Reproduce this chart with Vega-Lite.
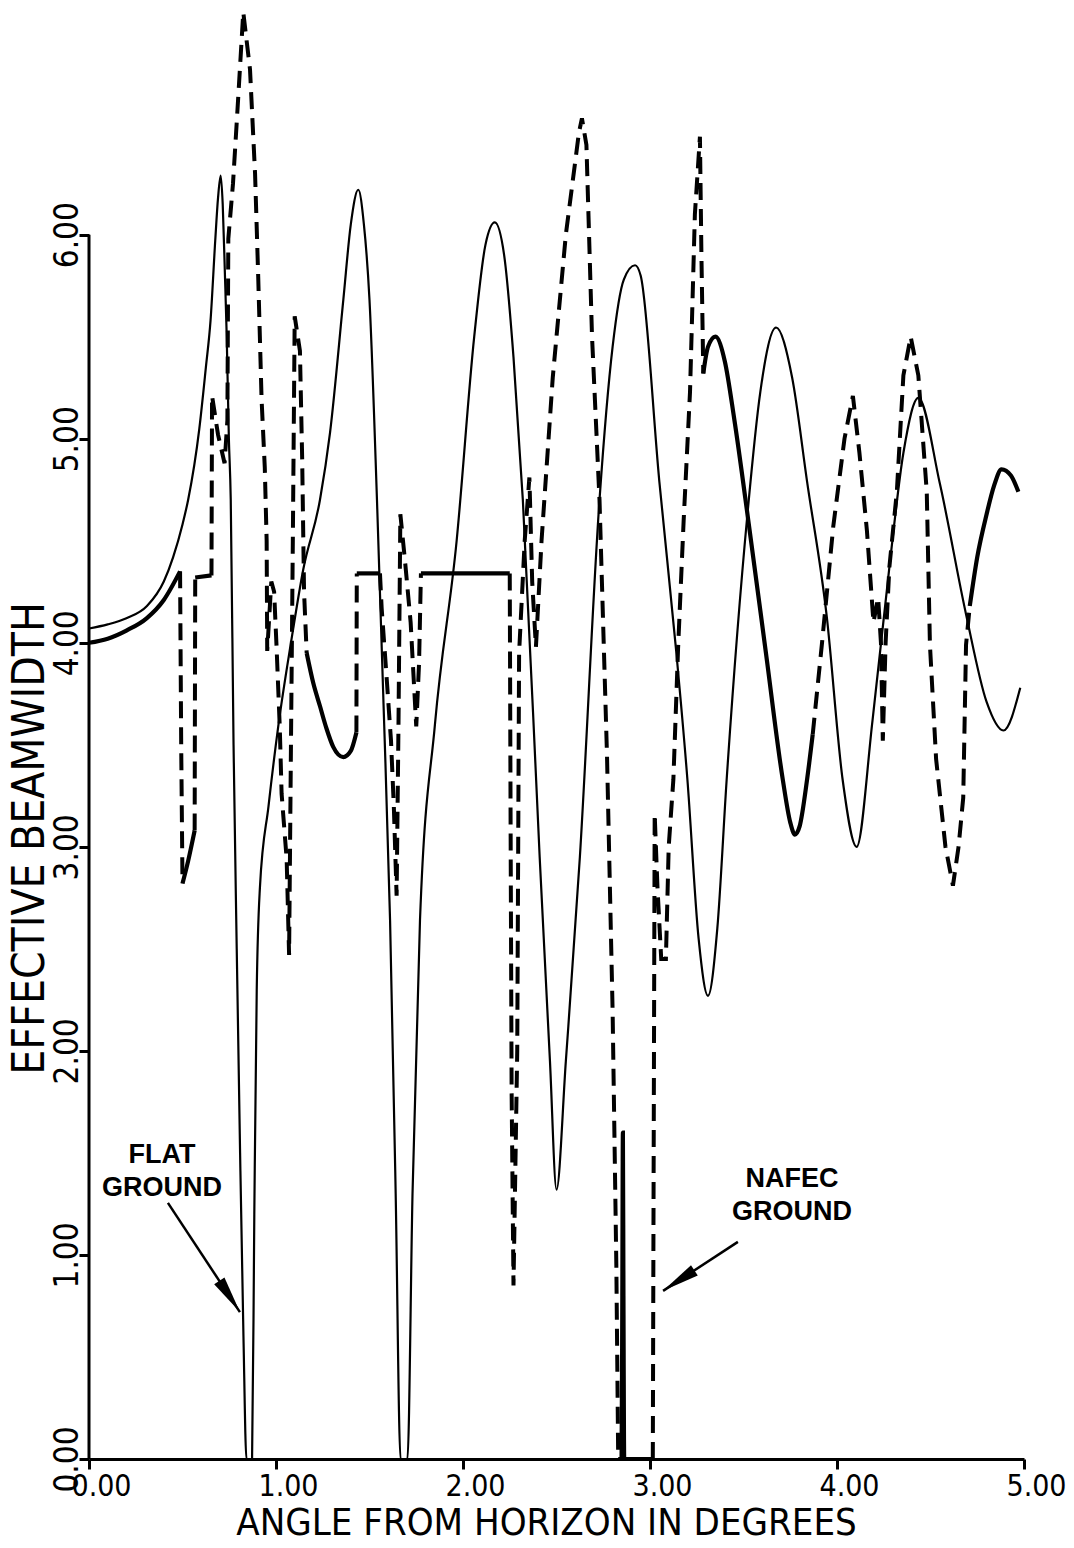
{
  "$schema": "https://vega.github.io/schema/vega-lite/v6.json",
  "width": 935,
  "height": 1459,
  "autosize": {"type": "none"},
  "padding": {"left": 89, "top": 0, "right": 50, "bottom": 89},
  "background": "white",
  "config": {"view": {"stroke": null}},
  "datasets": {
    "flat": [
      {"angle": 0.0, "bw": 4.07}, {"angle": 0.1, "bw": 4.09}, {"angle": 0.2, "bw": 4.12}, {"angle": 0.31, "bw": 4.18},
      {"angle": 0.4, "bw": 4.3}, {"angle": 0.45, "bw": 4.42}, {"angle": 0.5, "bw": 4.58}, {"angle": 0.53, "bw": 4.7},
      {"angle": 0.59, "bw": 5.05}, {"angle": 0.625, "bw": 5.35}, {"angle": 0.65, "bw": 5.58}, {"angle": 0.675, "bw": 5.97},
      {"angle": 0.69, "bw": 6.18}, {"angle": 0.704, "bw": 6.29}, {"angle": 0.715, "bw": 6.15}, {"angle": 0.727, "bw": 5.8},
      {"angle": 0.736, "bw": 5.52}, {"angle": 0.748, "bw": 5.0}, {"angle": 0.758, "bw": 4.7}, {"angle": 0.773, "bw": 3.5},
      {"angle": 0.79, "bw": 2.5}, {"angle": 0.808, "bw": 1.5}, {"angle": 0.826, "bw": 0.6}, {"angle": 0.842, "bw": 0.0},
      {"angle": 0.872, "bw": 0.0}, {"angle": 0.884, "bw": 1.2}, {"angle": 0.897, "bw": 2.3}, {"angle": 0.914, "bw": 2.8},
      {"angle": 0.96, "bw": 3.2}, {"angle": 1.012, "bw": 3.59}, {"angle": 1.08, "bw": 4.0}, {"angle": 1.146, "bw": 4.36},
      {"angle": 1.235, "bw": 4.7}, {"angle": 1.289, "bw": 5.03}, {"angle": 1.36, "bw": 5.68}, {"angle": 1.4, "bw": 6.05},
      {"angle": 1.44, "bw": 6.22}, {"angle": 1.47, "bw": 6.05}, {"angle": 1.5, "bw": 5.68}, {"angle": 1.54, "bw": 4.7},
      {"angle": 1.575, "bw": 3.7}, {"angle": 1.61, "bw": 2.64}, {"angle": 1.64, "bw": 1.3}, {"angle": 1.666, "bw": 0.0},
      {"angle": 1.703, "bw": 0.0}, {"angle": 1.73, "bw": 1.3}, {"angle": 1.77, "bw": 2.64}, {"angle": 1.85, "bw": 3.6},
      {"angle": 1.966, "bw": 4.5}, {"angle": 2.06, "bw": 5.5}, {"angle": 2.12, "bw": 5.95}, {"angle": 2.17, "bw": 6.06},
      {"angle": 2.22, "bw": 5.9}, {"angle": 2.27, "bw": 5.4}, {"angle": 2.32, "bw": 4.7}, {"angle": 2.41, "bw": 2.95},
      {"angle": 2.465, "bw": 1.95}, {"angle": 2.5, "bw": 1.32}, {"angle": 2.55, "bw": 1.95}, {"angle": 2.625, "bw": 2.95},
      {"angle": 2.73, "bw": 4.7}, {"angle": 2.8, "bw": 5.45}, {"angle": 2.86, "bw": 5.78}, {"angle": 2.92, "bw": 5.85},
      {"angle": 2.95, "bw": 5.8}, {"angle": 3.05, "bw": 4.79}, {"angle": 3.14, "bw": 3.96}, {"angle": 3.2, "bw": 3.33},
      {"angle": 3.26, "bw": 2.55}, {"angle": 3.31, "bw": 2.27}, {"angle": 3.36, "bw": 2.6}, {"angle": 3.41, "bw": 3.33},
      {"angle": 3.52, "bw": 4.62}, {"angle": 3.59, "bw": 5.23}, {"angle": 3.674, "bw": 5.545}, {"angle": 3.76, "bw": 5.3},
      {"angle": 3.84, "bw": 4.79}, {"angle": 3.945, "bw": 4.13}, {"angle": 4.03, "bw": 3.33}, {"angle": 4.105, "bw": 3.0},
      {"angle": 4.19, "bw": 3.62}, {"angle": 4.28, "bw": 4.37}, {"angle": 4.355, "bw": 4.93}, {"angle": 4.435, "bw": 5.2},
      {"angle": 4.55, "bw": 4.78}, {"angle": 4.69, "bw": 4.14}, {"angle": 4.8, "bw": 3.71}, {"angle": 4.89, "bw": 3.57},
      {"angle": 4.98, "bw": 3.78}
    ],
    "nafec": [
      {"seg": 1, "kind": "curve", "angle": 0.0, "bw": 4.0}, {"seg": 1, "kind": "curve", "angle": 0.1, "bw": 4.02},
      {"seg": 1, "kind": "curve", "angle": 0.2, "bw": 4.06}, {"seg": 1, "kind": "curve", "angle": 0.308, "bw": 4.12},
      {"seg": 1, "kind": "curve", "angle": 0.4, "bw": 4.21}, {"seg": 1, "kind": "curve", "angle": 0.487, "bw": 4.35},
      {"seg": 2, "kind": "jump", "angle": 0.487, "bw": 4.35}, {"seg": 2, "kind": "jump", "angle": 0.493, "bw": 3.5},
      {"seg": 2, "kind": "jump", "angle": 0.5, "bw": 2.82},
      {"seg": 3, "kind": "curve", "angle": 0.5, "bw": 2.82}, {"seg": 3, "kind": "curve", "angle": 0.53, "bw": 2.93},
      {"seg": 3, "kind": "curve", "angle": 0.565, "bw": 3.08},
      {"seg": 4, "kind": "jump", "angle": 0.565, "bw": 3.08}, {"seg": 4, "kind": "jump", "angle": 0.568, "bw": 4.32},
      {"seg": 5, "kind": "curve", "angle": 0.568, "bw": 4.32}, {"seg": 5, "kind": "curve", "angle": 0.655, "bw": 4.33},
      {"seg": 6, "kind": "jump", "angle": 0.655, "bw": 4.33}, {"seg": 6, "kind": "jump", "angle": 0.658, "bw": 5.21},
      {"seg": 6, "kind": "jump", "angle": 0.69, "bw": 5.02}, {"seg": 6, "kind": "jump", "angle": 0.725, "bw": 4.88},
      {"seg": 6, "kind": "jump", "angle": 0.74, "bw": 5.09}, {"seg": 6, "kind": "jump", "angle": 0.745, "bw": 5.98},
      {"seg": 6, "kind": "jump", "angle": 0.77, "bw": 6.25}, {"seg": 6, "kind": "jump", "angle": 0.79, "bw": 6.55},
      {"seg": 6, "kind": "jump", "angle": 0.825, "bw": 7.09}, {"seg": 6, "kind": "jump", "angle": 0.861, "bw": 6.81},
      {"seg": 6, "kind": "jump", "angle": 0.888, "bw": 6.3}, {"seg": 6, "kind": "jump", "angle": 0.905, "bw": 5.79},
      {"seg": 6, "kind": "jump", "angle": 0.923, "bw": 5.19}, {"seg": 6, "kind": "jump", "angle": 0.94, "bw": 4.86},
      {"seg": 6, "kind": "jump", "angle": 0.95, "bw": 4.5}, {"seg": 6, "kind": "jump", "angle": 0.953, "bw": 3.96},
      {"seg": 6, "kind": "jump", "angle": 0.975, "bw": 4.3}, {"seg": 6, "kind": "jump", "angle": 0.99, "bw": 4.25},
      {"seg": 6, "kind": "jump", "angle": 1.003, "bw": 3.98}, {"seg": 6, "kind": "jump", "angle": 1.02, "bw": 3.59},
      {"seg": 6, "kind": "jump", "angle": 1.03, "bw": 3.26}, {"seg": 6, "kind": "jump", "angle": 1.057, "bw": 2.94},
      {"seg": 6, "kind": "jump", "angle": 1.07, "bw": 2.47}, {"seg": 6, "kind": "jump", "angle": 1.08, "bw": 3.5},
      {"seg": 6, "kind": "jump", "angle": 1.09, "bw": 4.5}, {"seg": 6, "kind": "jump", "angle": 1.1, "bw": 5.6},
      {"seg": 6, "kind": "jump", "angle": 1.128, "bw": 5.43}, {"seg": 6, "kind": "jump", "angle": 1.14, "bw": 4.9},
      {"seg": 6, "kind": "jump", "angle": 1.15, "bw": 4.25}, {"seg": 6, "kind": "jump", "angle": 1.164, "bw": 3.95},
      {"seg": 7, "kind": "curve", "angle": 1.164, "bw": 3.95}, {"seg": 7, "kind": "curve", "angle": 1.2, "bw": 3.8},
      {"seg": 7, "kind": "curve", "angle": 1.235, "bw": 3.69}, {"seg": 7, "kind": "curve", "angle": 1.27, "bw": 3.58},
      {"seg": 7, "kind": "curve", "angle": 1.306, "bw": 3.49}, {"seg": 7, "kind": "curve", "angle": 1.36, "bw": 3.44},
      {"seg": 7, "kind": "curve", "angle": 1.4, "bw": 3.47}, {"seg": 7, "kind": "curve", "angle": 1.43, "bw": 3.56},
      {"seg": 8, "kind": "jump", "angle": 1.43, "bw": 3.56}, {"seg": 8, "kind": "jump", "angle": 1.432, "bw": 4.34},
      {"seg": 9, "kind": "curve", "angle": 1.432, "bw": 4.34}, {"seg": 9, "kind": "curve", "angle": 1.556, "bw": 4.34},
      {"seg": 10, "kind": "jump", "angle": 1.556, "bw": 4.34}, {"seg": 10, "kind": "jump", "angle": 1.565, "bw": 4.17},
      {"seg": 10, "kind": "jump", "angle": 1.59, "bw": 3.85}, {"seg": 10, "kind": "jump", "angle": 1.615, "bw": 3.52},
      {"seg": 10, "kind": "jump", "angle": 1.63, "bw": 3.2}, {"seg": 10, "kind": "jump", "angle": 1.645, "bw": 2.76},
      {"seg": 10, "kind": "jump", "angle": 1.655, "bw": 3.6}, {"seg": 10, "kind": "jump", "angle": 1.665, "bw": 4.63},
      {"seg": 10, "kind": "jump", "angle": 1.69, "bw": 4.4}, {"seg": 10, "kind": "jump", "angle": 1.72, "bw": 4.1},
      {"seg": 10, "kind": "jump", "angle": 1.75, "bw": 3.59}, {"seg": 10, "kind": "jump", "angle": 1.765, "bw": 3.9},
      {"seg": 10, "kind": "jump", "angle": 1.775, "bw": 4.34},
      {"seg": 11, "kind": "curve", "angle": 1.775, "bw": 4.34}, {"seg": 11, "kind": "curve", "angle": 2.25, "bw": 4.34},
      {"seg": 12, "kind": "jump", "angle": 2.25, "bw": 4.34}, {"seg": 12, "kind": "jump", "angle": 2.255, "bw": 3.0},
      {"seg": 12, "kind": "jump", "angle": 2.26, "bw": 1.8}, {"seg": 12, "kind": "jump", "angle": 2.27, "bw": 0.85},
      {"seg": 12, "kind": "jump", "angle": 2.29, "bw": 2.0}, {"seg": 12, "kind": "jump", "angle": 2.3, "bw": 3.95},
      {"seg": 12, "kind": "jump", "angle": 2.33, "bw": 4.5}, {"seg": 12, "kind": "jump", "angle": 2.355, "bw": 4.81},
      {"seg": 12, "kind": "jump", "angle": 2.37, "bw": 4.3}, {"seg": 12, "kind": "jump", "angle": 2.39, "bw": 3.98},
      {"seg": 12, "kind": "jump", "angle": 2.42, "bw": 4.5}, {"seg": 12, "kind": "jump", "angle": 2.48, "bw": 5.3},
      {"seg": 12, "kind": "jump", "angle": 2.55, "bw": 6.0}, {"seg": 12, "kind": "jump", "angle": 2.62, "bw": 6.5},
      {"seg": 12, "kind": "jump", "angle": 2.636, "bw": 6.57}, {"seg": 12, "kind": "jump", "angle": 2.66, "bw": 6.44},
      {"seg": 12, "kind": "jump", "angle": 2.69, "bw": 5.5}, {"seg": 12, "kind": "jump", "angle": 2.73, "bw": 4.7},
      {"seg": 12, "kind": "jump", "angle": 2.77, "bw": 3.45}, {"seg": 12, "kind": "jump", "angle": 2.8, "bw": 2.2},
      {"seg": 12, "kind": "jump", "angle": 2.82, "bw": 0.95}, {"seg": 12, "kind": "jump", "angle": 2.83, "bw": 0.0},
      {"seg": 13, "kind": "curve", "angle": 2.83, "bw": 0.0}, {"seg": 13, "kind": "curve", "angle": 2.848, "bw": 0.0},
      {"seg": 13, "kind": "curve", "angle": 2.852, "bw": 0.8}, {"seg": 13, "kind": "curve", "angle": 2.855, "bw": 1.6},
      {"seg": 13, "kind": "curve", "angle": 2.858, "bw": 0.8}, {"seg": 13, "kind": "curve", "angle": 2.862, "bw": 0.0},
      {"seg": 13, "kind": "curve", "angle": 3.015, "bw": 0.0},
      {"seg": 14, "kind": "jump", "angle": 3.015, "bw": 0.0}, {"seg": 14, "kind": "jump", "angle": 3.02, "bw": 1.6},
      {"seg": 14, "kind": "jump", "angle": 3.025, "bw": 3.16}, {"seg": 14, "kind": "jump", "angle": 3.04, "bw": 2.8},
      {"seg": 14, "kind": "jump", "angle": 3.06, "bw": 2.45}, {"seg": 14, "kind": "jump", "angle": 3.085, "bw": 2.45},
      {"seg": 14, "kind": "jump", "angle": 3.1, "bw": 3.0}, {"seg": 14, "kind": "jump", "angle": 3.125, "bw": 3.33},
      {"seg": 14, "kind": "jump", "angle": 3.15, "bw": 3.97}, {"seg": 14, "kind": "jump", "angle": 3.18, "bw": 4.6},
      {"seg": 14, "kind": "jump", "angle": 3.214, "bw": 5.23}, {"seg": 14, "kind": "jump", "angle": 3.24, "bw": 6.1},
      {"seg": 14, "kind": "jump", "angle": 3.267, "bw": 6.48}, {"seg": 14, "kind": "jump", "angle": 3.275, "bw": 5.9},
      {"seg": 14, "kind": "jump", "angle": 3.285, "bw": 5.32},
      {"seg": 15, "kind": "curve", "angle": 3.285, "bw": 5.32}, {"seg": 15, "kind": "curve", "angle": 3.31, "bw": 5.45},
      {"seg": 15, "kind": "curve", "angle": 3.35, "bw": 5.5}, {"seg": 15, "kind": "curve", "angle": 3.4, "bw": 5.38},
      {"seg": 15, "kind": "curve", "angle": 3.45, "bw": 5.1}, {"seg": 15, "kind": "curve", "angle": 3.53, "bw": 4.57},
      {"seg": 15, "kind": "curve", "angle": 3.62, "bw": 3.95}, {"seg": 15, "kind": "curve", "angle": 3.71, "bw": 3.33},
      {"seg": 15, "kind": "curve", "angle": 3.75, "bw": 3.12}, {"seg": 15, "kind": "curve", "angle": 3.775, "bw": 3.06},
      {"seg": 15, "kind": "curve", "angle": 3.8, "bw": 3.1}, {"seg": 15, "kind": "curve", "angle": 3.84, "bw": 3.33},
      {"seg": 15, "kind": "curve", "angle": 3.87, "bw": 3.55},
      {"seg": 16, "kind": "jump", "angle": 3.87, "bw": 3.55}, {"seg": 16, "kind": "jump", "angle": 3.92, "bw": 4.0},
      {"seg": 16, "kind": "jump", "angle": 3.98, "bw": 4.57}, {"seg": 16, "kind": "jump", "angle": 4.04, "bw": 5.0},
      {"seg": 16, "kind": "jump", "angle": 4.085, "bw": 5.21}, {"seg": 16, "kind": "jump", "angle": 4.12, "bw": 4.93},
      {"seg": 16, "kind": "jump", "angle": 4.16, "bw": 4.55}, {"seg": 16, "kind": "jump", "angle": 4.195, "bw": 4.1},
      {"seg": 16, "kind": "jump", "angle": 4.22, "bw": 4.22}, {"seg": 16, "kind": "jump", "angle": 4.235, "bw": 4.0},
      {"seg": 16, "kind": "jump", "angle": 4.245, "bw": 3.52}, {"seg": 16, "kind": "jump", "angle": 4.26, "bw": 4.0},
      {"seg": 16, "kind": "jump", "angle": 4.28, "bw": 4.37}, {"seg": 16, "kind": "jump", "angle": 4.32, "bw": 4.74},
      {"seg": 16, "kind": "jump", "angle": 4.355, "bw": 5.31}, {"seg": 16, "kind": "jump", "angle": 4.394, "bw": 5.5},
      {"seg": 16, "kind": "jump", "angle": 4.435, "bw": 5.31}, {"seg": 16, "kind": "jump", "angle": 4.48, "bw": 4.74},
      {"seg": 16, "kind": "jump", "angle": 4.497, "bw": 3.99}, {"seg": 16, "kind": "jump", "angle": 4.53, "bw": 3.43},
      {"seg": 16, "kind": "jump", "angle": 4.58, "bw": 3.0}, {"seg": 16, "kind": "jump", "angle": 4.62, "bw": 2.81},
      {"seg": 16, "kind": "jump", "angle": 4.65, "bw": 3.0}, {"seg": 16, "kind": "jump", "angle": 4.675, "bw": 3.24},
      {"seg": 16, "kind": "jump", "angle": 4.69, "bw": 3.99}, {"seg": 16, "kind": "jump", "angle": 4.71, "bw": 4.18},
      {"seg": 17, "kind": "curve", "angle": 4.71, "bw": 4.18}, {"seg": 17, "kind": "curve", "angle": 4.75, "bw": 4.42},
      {"seg": 17, "kind": "curve", "angle": 4.8, "bw": 4.63}, {"seg": 17, "kind": "curve", "angle": 4.84, "bw": 4.77},
      {"seg": 17, "kind": "curve", "angle": 4.88, "bw": 4.85}, {"seg": 17, "kind": "curve", "angle": 4.93, "bw": 4.82},
      {"seg": 17, "kind": "curve", "angle": 4.97, "bw": 4.74}
    ],
    "axisline": [{"angle": 0, "bw": 0, "bw_end": 6}],
    "notes": [
      {"note": "FLAT", "angle": 0.39, "bw": 1.49},
      {"note": "GROUND", "angle": 0.39, "bw": 1.33},
      {"note": "NAFEC", "angle": 3.76, "bw": 1.37},
      {"note": "GROUND", "angle": 3.76, "bw": 1.21}
    ],
    "arrows": [
      {"target": "FLAT GROUND", "angle": 0.422, "bw": 1.255, "angle_end": 0.807, "bw_end": 0.72},
      {"target": "NAFEC GROUND", "angle": 3.47, "bw": 1.064, "angle_end": 3.07, "bw_end": 0.824}
    ]
  },
  "layer": [
    {
      "data": {"name": "flat"},
      "mark": {"type": "line", "color": "black", "strokeWidth": 2.2, "interpolate": "monotone"},
      "encoding": {
        "x": {
          "field": "angle", "type": "quantitative",
          "scale": {"domain": [0, 5], "nice": false, "zero": false},
          "axis": {
            "values": [0, 1, 2, 3, 4, 5], "format": ".2f", "grid": false,
            "domainColor": "black", "domainWidth": 3, "tickColor": "black", "tickWidth": 3, "tickSize": 10,
            "labelFont": "Liberation Sans Narrow, DejaVu Sans Condensed, sans-serif", "labelFontSize": 30,
            "labelColor": "black", "labelPadding": 2, "labelOffset": 12, "labelBaseline": "top",
            "labelFlush": false, "labelOverlap": false,
            "title": "ANGLE FROM HORIZON IN DEGREES",
            "titleFont": "Liberation Sans Narrow, DejaVu Sans Condensed, sans-serif", "titleFontSize": 38,
            "titleFontWeight": "normal", "titleColor": "black",
            "titleX": 457, "titleY": 64, "titleAlign": "center", "titleBaseline": "middle"
          }
        },
        "y": {
          "field": "bw", "type": "quantitative",
          "scale": {"domain": [0, 7.15], "nice": false, "zero": false},
          "axis": {
            "values": [0, 1, 2, 3, 4, 5, 6], "format": ".2f", "grid": false, "domain": false,
            "tickColor": "black", "tickWidth": 3, "tickSize": 10,
            "labelFont": "Liberation Sans Narrow, DejaVu Sans Condensed, sans-serif", "labelFontSize": 33,
            "labelColor": "black", "labelAngle": 270, "labelAlign": "center", "labelBaseline": "alphabetic",
            "labelPadding": 2, "labelFlush": false, "labelOverlap": false,
            "title": "EFFECTIVE BEAMWIDTH",
            "titleFont": "Liberation Sans Narrow, DejaVu Sans Condensed, sans-serif", "titleFontSize": 44,
            "titleFontWeight": "normal", "titleColor": "black", "titleAngle": 270,
            "titleX": -59, "titleY": 838, "titleAlign": "center", "titleBaseline": "middle"
          }
        }
      }
    },
    {
      "data": {"name": "nafec"},
      "transform": [{"filter": "datum.kind == 'curve'"}],
      "mark": {"type": "line", "color": "black", "strokeWidth": 4.2, "interpolate": "monotone"},
      "encoding": {
        "x": {"field": "angle", "type": "quantitative"},
        "y": {"field": "bw", "type": "quantitative"},
        "detail": {"field": "seg", "type": "nominal"}
      }
    },
    {
      "data": {"name": "nafec"},
      "transform": [{"filter": "datum.kind == 'jump'"}],
      "mark": {"type": "line", "color": "black", "strokeWidth": 4, "strokeDash": [17, 9]},
      "encoding": {
        "x": {"field": "angle", "type": "quantitative"},
        "y": {"field": "bw", "type": "quantitative"},
        "detail": {"field": "seg", "type": "nominal"}
      }
    },
    {
      "data": {"name": "axisline"},
      "mark": {"type": "rule", "color": "black", "strokeWidth": 3},
      "encoding": {
        "x": {"field": "angle", "type": "quantitative"},
        "y": {"field": "bw", "type": "quantitative"},
        "y2": {"field": "bw_end"}
      }
    },
    {
      "data": {"name": "notes"},
      "mark": {"type": "text", "color": "black", "font": "Liberation Sans, Arial, sans-serif", "fontWeight": "bold", "fontSize": 27, "align": "center", "baseline": "middle"},
      "encoding": {
        "x": {"field": "angle", "type": "quantitative"},
        "y": {"field": "bw", "type": "quantitative"},
        "text": {"field": "note"}
      }
    },
    {
      "data": {"name": "arrows"},
      "mark": {"type": "rule", "color": "black", "strokeWidth": 2.5},
      "encoding": {
        "x": {"field": "angle", "type": "quantitative"},
        "y": {"field": "bw", "type": "quantitative"},
        "x2": {"field": "angle_end"},
        "y2": {"field": "bw_end"}
      }
    },
    {
      "data": {"name": "arrows"},
      "transform": [{"filter": "datum.target == 'FLAT GROUND'"}],
      "mark": {"type": "point", "shape": "M0,0L0.33,2L-0.33,2Z", "filled": true, "color": "black", "opacity": 1, "size": 1400, "angle": 146.6},
      "encoding": {
        "x": {"field": "angle_end", "type": "quantitative"},
        "y": {"field": "bw_end", "type": "quantitative"}
      }
    },
    {
      "data": {"name": "arrows"},
      "transform": [{"filter": "datum.target == 'NAFEC GROUND'"}],
      "mark": {"type": "point", "shape": "M0,0L0.33,2L-0.33,2Z", "filled": true, "color": "black", "opacity": 1, "size": 1400, "angle": 236.8},
      "encoding": {
        "x": {"field": "angle_end", "type": "quantitative"},
        "y": {"field": "bw_end", "type": "quantitative"}
      }
    }
  ]
}
